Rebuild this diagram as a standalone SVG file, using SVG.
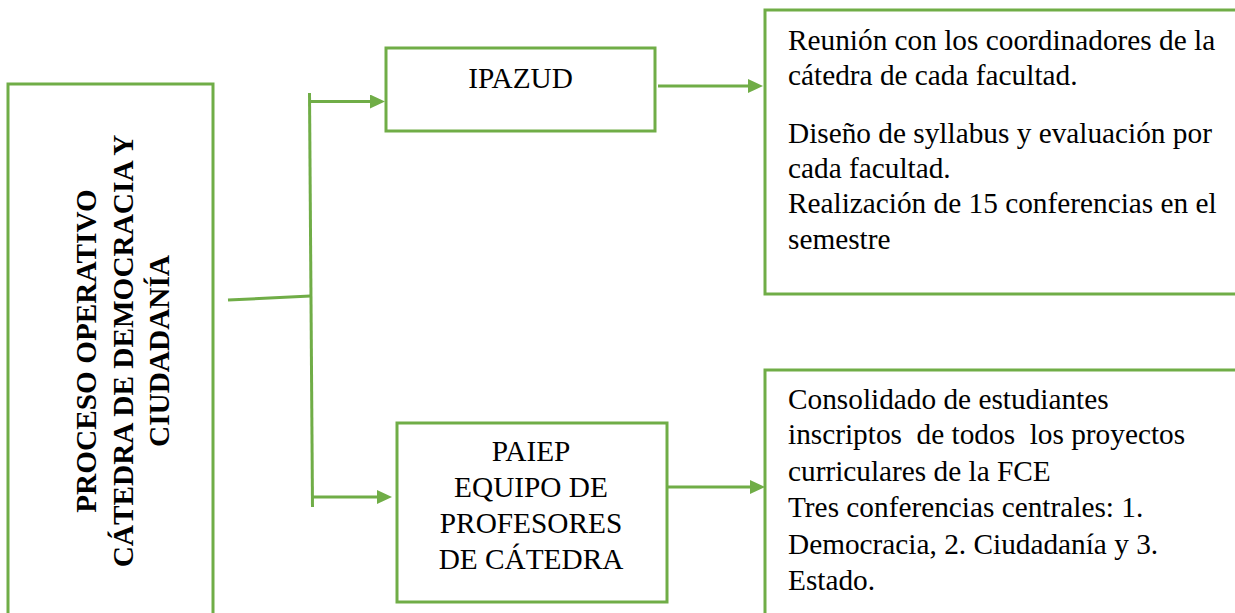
<svg xmlns="http://www.w3.org/2000/svg" width="1235" height="613" viewBox="0 0 1235 613">
<style>
.box{fill:#ffffff;stroke:#70ad47;stroke-width:3}
.con{fill:none;stroke:#70ad47;stroke-width:3}
.t{font-family:"Liberation Serif","Times New Roman",serif;font-size:29.3px;fill:#000000}
.b{font-weight:bold}
.c{text-anchor:middle}
</style>
<defs>
<marker id="ah" markerUnits="userSpaceOnUse" viewBox="0 0 15 14" refX="3" refY="7" markerWidth="15" markerHeight="14" orient="auto">
<path d="M0,0 L15,7 L0,14 z" fill="#70ad47"/>
</marker>
</defs>
<rect width="1235" height="613" fill="#ffffff"/>
<g id="proceso">
<rect class="box" x="8" y="84" width="205" height="600"/>
<text class="t b c" transform="translate(96,351) rotate(-90)">PROCESO OPERATIVO</text>
<text class="t b c" transform="translate(132.5,351) rotate(-90)">CÁTEDRA DE DEMOCRACIA Y</text>
<text class="t b c" transform="translate(169,351) rotate(-90)">CIUDADANÍA</text>
</g>
<g id="ipazud">
<rect class="box" x="386" y="48" width="269" height="83"/>
<text class="t c" x="520.5" y="88">IPAZUD</text>
</g>
<g id="paiep">
<rect class="box" x="397" y="423" width="270" height="179"/>
<text class="t c" x="531" y="461">PAIEP</text>
<text class="t c" x="531" y="497">EQUIPO DE</text>
<text class="t c" x="531" y="533">PROFESORES</text>
<text class="t c" x="531" y="569">DE CÁTEDRA</text>
</g>
<g id="ipazud-tareas">
<rect class="box" x="765" y="10" width="500" height="284"/>
<text class="t" x="788" y="50">Reunión con los coordinadores de la</text>
<text class="t" x="788" y="85">cátedra de cada facultad.</text>
<text class="t" x="788" y="143">Diseño de syllabus y evaluación por</text>
<text class="t" x="788" y="178">cada facultad.</text>
<text class="t" x="788" y="213">Realización de 15 conferencias en el</text>
<text class="t" x="788" y="249">semestre</text>
</g>
<g id="paiep-tareas">
<rect class="box" x="765" y="370" width="500" height="300"/>
<text class="t" x="788" y="409">Consolidado de estudiantes</text>
<text class="t" x="788" y="444" xml:space="preserve" style="white-space:pre">inscriptos  de todos  los proyectos</text>
<text class="t" x="788" y="481">curriculares de la FCE</text>
<text class="t" x="788" y="517">Tres conferencias centrales: 1.</text>
<text class="t" x="788" y="554">Democracia, 2. Ciudadanía y 3.</text>
<text class="t" x="788" y="590">Estado.</text>
</g>
<g id="connectors">
<line class="con" x1="228" y1="300" x2="310.5" y2="296"/>
<line class="con" x1="309.5" y1="93" x2="312.5" y2="507"/>
<line class="con" x1="309.5" y1="101.5" x2="373" y2="101.5" marker-end="url(#ah)"/>
<line class="con" x1="312.5" y1="497" x2="380" y2="497" marker-end="url(#ah)"/>
<line class="con" x1="658" y1="86" x2="751" y2="86" marker-end="url(#ah)"/>
<line class="con" x1="668" y1="487" x2="753" y2="487" marker-end="url(#ah)"/>
</g>
</svg>
